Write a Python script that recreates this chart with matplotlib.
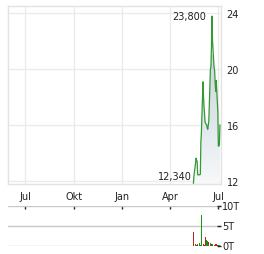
import datetime as dt
import matplotlib
matplotlib.use("Agg")
import matplotlib.pyplot as plt
import matplotlib.dates as mdates
import numpy as np
from matplotlib.patches import Polygon
from matplotlib.colors import LinearSegmentedColormap

# ---------------- data ----------------
dates = ["2025-05-15", "2025-05-16", "2025-05-19", "2025-05-20", "2025-05-21",
         "2025-05-22", "2025-05-23", "2025-05-26", "2025-05-27", "2025-05-28",
         "2025-05-29", "2025-05-30", "2025-06-02", "2025-06-03", "2025-06-04",
         "2025-06-05", "2025-06-06", "2025-06-09", "2025-06-10", "2025-06-11",
         "2025-06-12", "2025-06-13", "2025-06-16", "2025-06-17", "2025-06-18",
         "2025-06-19", "2025-06-20", "2025-06-23", "2025-06-24", "2025-06-25",
         "2025-06-26", "2025-06-27", "2025-06-30", "2025-07-01", "2025-07-02",
         "2025-07-03", "2025-07-04"]
prices = [11.85, 12.4, 13.3, 13.64, 13.5,
          13.4, 12.45, 12.45, 12.45, 12.5,
          14.8, 15.45, 19.1, 18.0, 17.3,
          16.8, 16.2, 16.0, 15.8, 15.7,
          16.0, 16.3, 20.0, 20.2, 21.5,
          23.8, 22.0, 20.1, 19.9, 19.0,
          18.4, 19.2, 17.0, 14.5, 14.5,
          14.6, 16.0]
volumes = [3.4, 0.1, 0.3, 0.1, 0.1,
           0.5, 0.1, 0.4, 0.7, 0.1,
           0.2, 7.7, 3.1, 0.3, 2.2,
           0.2, 2.2, 1.4, 0.2, 1.2,
           0.8, 0.2, 0.7, 0.2, 0.5,
           0.2, 0.35, 0.1, 0.1, 0.5,
           0.1, 0.3, 0.1, 0.1, 0.1,
           0.1, 0.05]
vol_up = [0, 1, 1, 1, 0,
          1, 0, 0, 1, 1,
          1, 1, 0, 0, 0,
          0, 0, 1, 0, 1,
          0, 1, 1, 1, 0,
          1, 1, 0, 0, 0,
          0, 0, 0, 0, 1,
          1, 1]
high_label = "23,800"
low_label = "12,340"
low_value = 12.34
price_ticks = [12, 16, 20, 24]
vol_ticks = [0, 5, 10]
vol_tick_labels = ["0T", "5T", "10T"]
month_ticks = ["2024-07-01", "2024-10-01", "2025-01-01", "2025-04-01", "2025-07-01"]
month_labels = ["Jul", "Okt", "Jan", "Apr", "Jul"]

# ---------------- figure ----------------
W, H = 264, 255
fig = plt.figure(figsize=(W / 100, H / 100), dpi=100)
plt.rcParams['font.family'] = ['DejaVu Sans']

def px_axes(l, t, r, b):
    return fig.add_axes([l / W, 1 - b / H, (r - l) / W, (b - t) / H])

x = mdates.date2num([dt.datetime.fromisoformat(d) for d in dates])
mt = mdates.date2num([dt.datetime.fromisoformat(d) for d in month_ticks])
xlim = (mdates.date2num(dt.datetime(2024, 5, 30)), mdates.date2num(dt.datetime(2025, 7, 6)))

text_col = "#222222"
grid_col = "#ebebeb"
line_col = "#339933"

ax = px_axes(8, 7, 221, 185)
ax.set_xlim(*xlim)
ax.set_ylim(11.79, 24.52)

# gradient fill under line
ymin = 11.79
verts = [(x[0], ymin)] + list(zip(x, prices)) + [(x[-1], ymin)]
poly = Polygon(verts, closed=True, facecolor="none", edgecolor="none")
ax.add_patch(poly)
grad = np.linspace(0, 1, 256).reshape(-1, 1)
cmap = LinearSegmentedColormap.from_list("g", ["#f7f9fa", "#dfe6eb", "#cdd7de"])
im = ax.imshow(grad, extent=(x[0], x[-1], ymin, 21.0), origin="lower",
               cmap=cmap, aspect="auto", zorder=1)
im.set_clip_path(poly)

ax.plot(x, prices, color=line_col, lw=0.9, zorder=3)

ax.set_xticks(mt)
ax.set_xticklabels(month_labels)
ax.set_yticks(price_ticks)
ax.yaxis.tick_right()
ax.grid(True, color=grid_col, lw=1.0, zorder=0)
ax.set_axisbelow(True)
ax.tick_params(axis="both", length=0, labelsize=7, colors=text_col)
ax.tick_params(axis="x", pad=5)
ax.tick_params(axis="y", pad=4)
for s in ax.spines.values():
    s.set_color("#e3e3e3")
    s.set_linewidth(1.0)

# annotations
imax = int(np.argmax(prices))
ax.annotate(high_label, (x[imax], prices[imax]), xytext=(-4, 0), textcoords="offset points",
            ha="right", va="center", fontsize=7, color=text_col, zorder=5)
ax.annotate(low_label, (x[0], low_value), xytext=(-1, 0), textcoords="offset points",
            ha="right", va="center", fontsize=7, color=text_col, zorder=5)

# volume panel
vx = px_axes(8, 206.5, 221, 246.5)
vx.set_xlim(*xlim)
vx.set_ylim(0, 10)
cols = ["#119911" if u else "#bb2222" for u in vol_up]
vx.bar(x, volumes, width=1.7, color=cols, zorder=3, linewidth=0)
vx.set_yticks(vol_ticks)
vx.set_yticklabels(vol_tick_labels)
vx.yaxis.tick_right()
vx.yaxis.grid(True, color="#c8c8c8", lw=1.0, zorder=0)
for s in vx.spines.values():
    s.set_visible(False)
vx.tick_params(axis="y", direction="in", length=3, width=1, colors=text_col,
               labelsize=7, pad=1)
vx.set_xticks(mt)
vx.xaxis.tick_top()
vx.tick_params(axis="x", direction="in", length=2, width=1, colors=text_col, labeltop=False)

fig.savefig("out.png", dpi=100)
